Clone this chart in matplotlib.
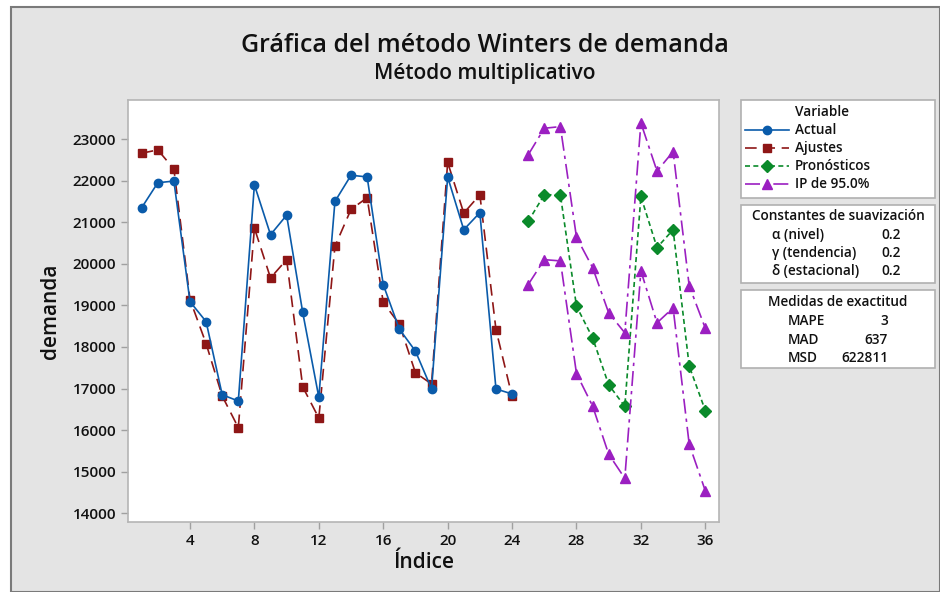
import matplotlib
matplotlib.use("Agg")
import matplotlib.pyplot as plt
from matplotlib.patches import Rectangle
from matplotlib.lines import Line2D

# ---- data ----
t_hist = list(range(1, 25))
actual = [21350, 21950, 21990, 19090, 18610, 16850, 16700, 21900, 20700, 21170, 18830, 16790,
          21500, 22130, 22090, 19500, 18430, 17900, 16990, 22090, 20820, 21230, 16990, 16870]
fits = [22660, 22740, 22280, 19140, 18080, 16820, 16060, 20860, 19660, 20100, 17040, 16290,
        20420, 21310, 21590, 19070, 18550, 17380, 17110, 22440, 21220, 21660, 18420, 16810]
t_fc = list(range(25, 37))
forecast = [21020, 21660, 21660, 18980, 18220, 17090, 16570, 21620, 20390, 20820, 17540, 16470]
upper = [22620, 23260, 23300, 20640, 19910, 18820, 18340, 23390, 22230, 22700, 19470, 18450]
lower = [19500, 20100, 20070, 17360, 16580, 15420, 14840, 19830, 18580, 18940, 15660, 14540]

xticks = [4, 8, 12, 16, 20, 24, 28, 32, 36]
yticks = [14000, 15000, 16000, 17000, 18000, 19000, 20000, 21000, 22000, 23000]

legend_labels = ["Actual", "Ajustes", "Pronósticos", "IP de 95.0%"]
smooth_labels = ["α (nivel)", "γ (tendencia)", "δ (estacional)"]
smooth_values = ["0.2", "0.2", "0.2"]
acc_labels = ["MAPE", "MAD", "MSD"]
acc_values = ["3", "637", "622811"]

title = "Gráfica del método Winters de demanda"
subtitle = "Método multiplicativo"

# ---- style ----
W, H = 940, 592
plt.rcParams['font.family'] = ['Open Sans', 'DejaVu Sans']
BG = '#e4e4e4'
C_ACT = '#0A5BAA'
C_FIT = '#8E1616'
C_FC = '#0A8A2A'
C_PI = '#9B1FC1'
TXT = '#111111'

def fx(px):
    return px / W

def fy(py):
    return 1 - py / H

fig = plt.figure(figsize=(W / 100, H / 100), dpi=100)
fig.patch.set_facecolor('white')
# gray panel with border
fig.patches.append(Rectangle((fx(11), fy(592)), fx(940) - fx(11), fy(7) - fy(592),
                             transform=fig.transFigure, facecolor=BG, edgecolor='#7a7a7a',
                             linewidth=1.5, zorder=-5))

ax = fig.add_axes([fx(128), fy(522), fx(719) - fx(128), fy(100) - fy(522)])
ax.set_facecolor('white')

dash_fit = (0, (7, 4))
dash_fc = (0, (3, 2))
dash_pi = (0, (9, 3, 2, 3))

ax.plot(t_hist, actual, color=C_ACT, lw=1.2, ls='-', marker='o', ms=6, zorder=4)
ax.plot(t_hist, fits, color=C_FIT, lw=1.2, ls=dash_fit, marker='s', ms=6, zorder=3)
ax.plot(t_fc, forecast, color=C_FC, lw=1.2, ls=dash_fc, marker='D', ms=6, zorder=3)
ax.plot(t_fc, upper, color=C_PI, lw=1.2, ls=dash_pi, marker='^', ms=7.5, zorder=3)
ax.plot(t_fc, lower, color=C_PI, lw=1.2, ls=dash_pi, marker='^', ms=7.5, zorder=3)

ax.set_xlim(0.15, 36.85)
ax.set_ylim(13790, 23940)
ax.set_xticks(xticks)
ax.set_yticks(yticks)
for s in ax.spines.values():
    s.set_color('#b5b5b5')
    s.set_linewidth(1.2)
ax.tick_params(axis='both', colors='#a0a0a0', length=5, width=1, labelcolor=TXT, labelsize=11)
for lab in ax.get_xticklabels() + ax.get_yticklabels():
    lab.set_fontweight('semibold')
ax.set_xlabel("Índice", fontsize=15, fontweight='semibold', color=TXT, labelpad=3)
ax.set_ylabel("demanda", fontsize=15, fontweight='semibold', color=TXT, labelpad=8)

fig.text(fx(485), fy(46), title, ha='center', va='center', fontsize=18,
         fontweight='semibold', color=TXT)
fig.text(fx(485), fy(73), subtitle, ha='center', va='center', fontsize=15,
         fontweight='semibold', color=TXT)

# ---- side boxes ----
def box(y0, y1):
    fig.patches.append(Rectangle((fx(741), fy(y1)), fx(935) - fx(741), fy(y0) - fy(y1),
                                 transform=fig.transFigure, facecolor='white',
                                 edgecolor='#b0b0b0', linewidth=1.2, zorder=1))

box(100, 198)
box(205, 283)
box(290, 368)

FS = 9.8
fig.text(fx(795), fy(112), "Variable", ha='left', va='center', fontsize=FS,
         fontweight='semibold', color=TXT)
styles = [(C_ACT, '-', 'o', 6), (C_FIT, dash_fit, 's', 6), (C_FC, dash_fc, 'D', 6),
          (C_PI, dash_pi, '^', 7.5)]
for i, (lab, (c, ls, m, ms)) in enumerate(zip(legend_labels, styles)):
    yy = fy(130 + 18 * i)
    fig.add_artist(Line2D([fx(745), fx(789)], [yy, yy], transform=fig.transFigure,
                          color=c, ls=ls, lw=1.2, zorder=2))
    fig.add_artist(Line2D([fx(767)], [yy], transform=fig.transFigure, color=c,
                          marker=m, ms=ms, ls='none', zorder=3))
    fig.text(fx(795), yy, lab, ha='left', va='center', fontsize=FS,
             fontweight='semibold', color=TXT)

fig.text(fx(838), fy(216), "Constantes de suavización", ha='center', va='center',
         fontsize=FS, fontweight='semibold', color=TXT)
for i, (lab, v) in enumerate(zip(smooth_labels, smooth_values)):
    yy = fy(235 + 18 * i)
    fig.text(fx(772), yy, lab, ha='left', va='center', fontsize=FS,
             fontweight='semibold', color=TXT)
    fig.text(fx(901), yy, v, ha='right', va='center', fontsize=FS,
             fontweight='semibold', color=TXT)

fig.text(fx(838), fy(302), "Medidas de exactitud", ha='center', va='center',
         fontsize=FS, fontweight='semibold', color=TXT)
for i, (lab, v) in enumerate(zip(acc_labels, acc_values)):
    yy = fy(321 + 18.5 * i)
    fig.text(fx(788), yy, lab, ha='left', va='center', fontsize=FS,
             fontweight='semibold', color=TXT)
    fig.text(fx(888), yy, v, ha='right', va='center', fontsize=FS,
             fontweight='semibold', color=TXT)

fig.savefig("out.png", dpi=100, facecolor=fig.get_facecolor())
